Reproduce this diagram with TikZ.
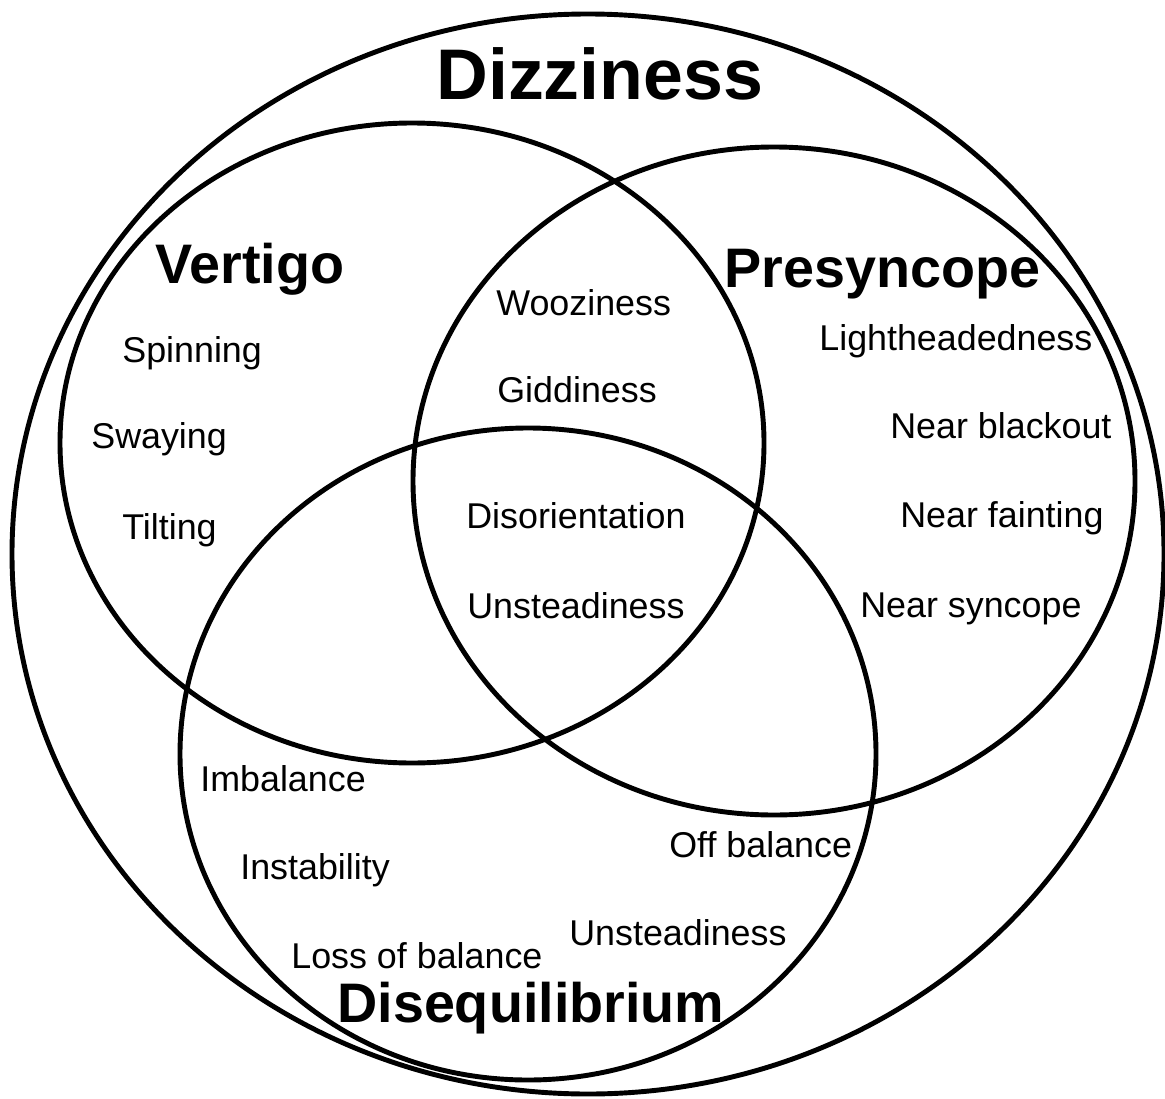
\documentclass[tikz,border=0pt]{standalone}
\usepackage{fontspec}
\setmainfont{Liberation Sans}
\newcommand{\termsize}{\fontsize{20.4}{24}\selectfont}
\newcommand{\groupsize}{\fontsize{31.7}{36}\selectfont\bfseries}
\newcommand{\titlesize}{\fontsize{40.8}{46}\selectfont\bfseries}
\begin{document}
\begin{tikzpicture}[x=0.02cm, y=0.02cm]
\tikzstyle{every node}+=[inner sep=0pt, anchor=base west]
\tikzstyle{term}=[font=\termsize]
\tikzstyle{group}=[font=\groupsize]
\tikzstyle{ring}=[black, line width=2.8pt]
\useasboundingbox (0,0) rectangle (1165,-1098);
\draw [ring] (588,-554) ellipse (576 and 540);
\draw [ring] (412,-443) ellipse (352 and 320);
\draw [ring] (774,-481) ellipse (361 and 334);
\draw [ring] (528,-754) ellipse (348 and 326);
\draw (436,-100) node [font=\titlesize] (dizziness) {Dizziness};
\draw (155,-283) node [group] (vertigo) {Vertigo};
\draw (122,-362) node [term] (spinning) {Spinning};
\draw (91,-448) node [term] (swaying) {Swaying};
\draw (122,-539) node [term] (tilting) {Tilting};
\draw (724,-287) node [group] (presyncope) {Presyncope};
\draw (819,-350) node [term] (lighthead) {Lightheadedness};
\draw (890,-438) node [term] (blackout) {Near blackout};
\draw (900,-527) node [term] (fainting) {Near fainting};
\draw (860,-617) node [term] (syncope) {Near syncope};
\draw (496,-315) node [term] (wooziness) {Wooziness};
\draw (497,-402) node [term] (giddiness) {Giddiness};
\draw (466,-528) node [term] (disorient) {Disorientation};
\draw (467,-618) node [term] (unsteadymid) {Unsteadiness};
\draw (200,-791) node [term] (imbalance) {Imbalance};
\draw (240,-879) node [term] (instability) {Instability};
\draw (291,-968) node [term] (lossbal) {Loss of balance};
\draw (669,-857) node [term] (offbal) {Off balance};
\draw (569,-945) node [term] (unsteadylow) {Unsteadiness};
\draw (337,-1022) node [group] (disequilibrium) {Disequilibrium};
\end{tikzpicture}
\end{document}
